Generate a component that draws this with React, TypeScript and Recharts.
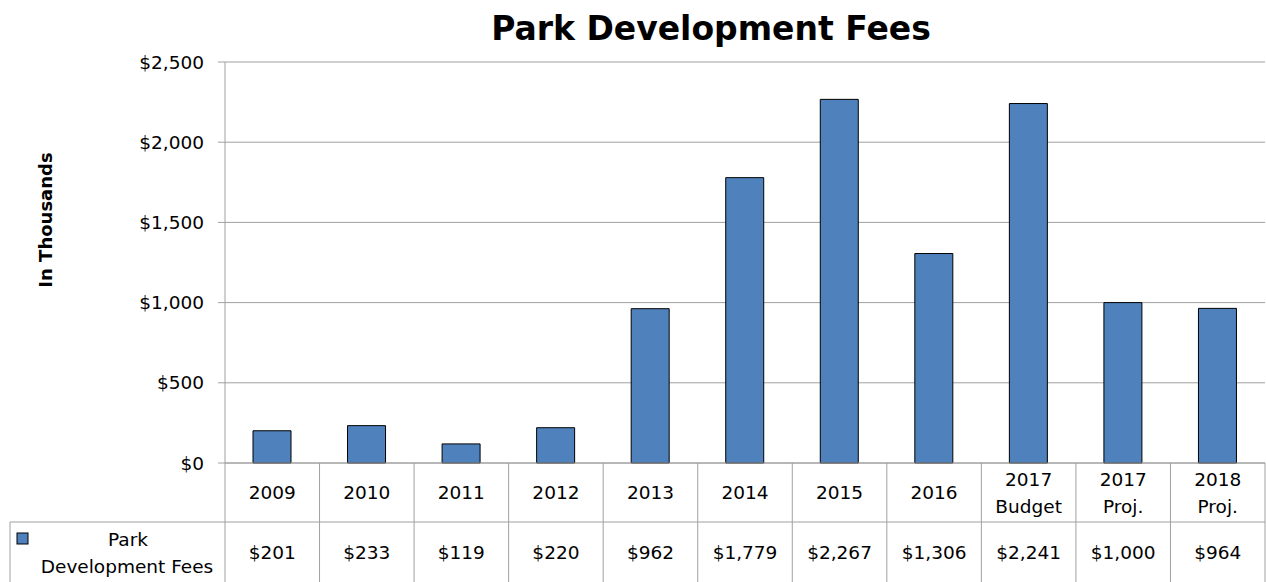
import React from 'react';
import { BarChart, Bar, XAxis, YAxis, CartesianGrid, Customized } from 'recharts';

const categories = ['2009', '2010', '2011', '2012', '2013', '2014', '2015', '2016', '2017 Budget', '2017 Proj.', '2018 Proj.'];
const categoryLines = [['2009'], ['2010'], ['2011'], ['2012'], ['2013'], ['2014'], ['2015'], ['2016'], ['2017', 'Budget'], ['2017', 'Proj.'], ['2018', 'Proj.']];
const feeValues = [201, 233, 119, 220, 962, 1779, 2267, 1306, 2241, 1000, 964];
const yTicks = [0, 500, 1000, 1500, 2000, 2500];
const seriesName = 'Park Development Fees';
const legendLines = ['Park', 'Development Fees'];

const data = categories.map((c, i) => ({ category: c, value: feeValues[i], idx: i }));

const W = 1266;
const H = 582;
const M = { top: 62, right: 1, bottom: 0, left: 0 };
const Y_WIDTH = 225;
const X_HEIGHT = 119;
const PLOT_LEFT = M.left + Y_WIDTH;
const PLOT_RIGHT = W - M.right;
const PLOT_BOTTOM = H - M.bottom - X_HEIGHT;
const ROW_SPLIT = 522;
const TABLE_BOTTOM = H;
const TABLE_LEFT = 10;
const BAND = (PLOT_RIGHT - PLOT_LEFT) / categories.length;
const FONT = '"DejaVu Sans", sans-serif';
const FS = 18.5;
const GRID = '#a0a0a0';
const BLUE = '#4F81BD';

const fmt = (v: number) => '$' + v.toLocaleString('en-US');

const TableTick = (props: any) => {
  const { x, payload, index } = props;
  const i = typeof index === 'number' ? index : categories.indexOf(payload.value);
  const left = x - BAND / 2;
  const right = x + BAND / 2;
  const lines = categoryLines[i] || [payload.value];
  const row1Mid = (PLOT_BOTTOM + ROW_SPLIT) / 2;
  const row2Mid = (ROW_SPLIT + TABLE_BOTTOM) / 2;
  const lh = 27;
  return (
    <g>
      <line x1={left} y1={PLOT_BOTTOM} x2={left} y2={TABLE_BOTTOM} stroke={GRID} strokeWidth={1} />
      {i === categories.length - 1 && (
        <line x1={right} y1={PLOT_BOTTOM} x2={right} y2={TABLE_BOTTOM} stroke={GRID} strokeWidth={1} />
      )}
      <line x1={left} y1={ROW_SPLIT} x2={right} y2={ROW_SPLIT} stroke={GRID} strokeWidth={1} />
      {lines.map((t: string, k: number) => (
        <text
          key={k}
          x={x}
          y={row1Mid + (k - (lines.length - 1) / 2) * lh}
          textAnchor="middle"
          dominantBaseline="central"
          fontFamily={FONT}
          fontSize={FS}
          fill="#000"
        >
          {t}
        </text>
      ))}
      <text x={x} y={row2Mid} textAnchor="middle" dominantBaseline="central" fontFamily={FONT} fontSize={FS} fill="#000">
        {fmt(feeValues[i])}
      </text>
    </g>
  );
};

const Extras = () => {
  const row2Mid = (ROW_SPLIT + TABLE_BOTTOM) / 2;
  return (
    <g>
      <text x={711} y={28} textAnchor="middle" dominantBaseline="central" fontFamily={FONT} fontWeight="bold" fontSize={33} fill="#000">
        {seriesName}
      </text>
      <text
        x={45}
        y={220}
        transform="rotate(-90 45 220)"
        textAnchor="middle"
        dominantBaseline="central"
        fontFamily={FONT}
        fontWeight="bold"
        fontSize={18}
        fill="#000"
      >
        In Thousands
      </text>
      <line x1={TABLE_LEFT} y1={ROW_SPLIT} x2={PLOT_LEFT} y2={ROW_SPLIT} stroke={GRID} />
      <line x1={TABLE_LEFT} y1={ROW_SPLIT} x2={TABLE_LEFT} y2={TABLE_BOTTOM} stroke={GRID} />
      <rect x={17} y={533} width={11} height={11} fill={BLUE} stroke="#000" strokeWidth={1} />
      <text x={128} y={row2Mid - 13} textAnchor="middle" dominantBaseline="central" fontFamily={FONT} fontSize={FS} fill="#000">
        {legendLines[0]}
      </text>
      <text x={127} y={row2Mid + 14} textAnchor="middle" dominantBaseline="central" fontFamily={FONT} fontSize={FS} fill="#000">
        {legendLines[1]}
      </text>
    </g>
  );
};

export default function App() {
  return (
    <div style={{ position: 'absolute', left: 0, top: 0, width: W, height: H, background: '#fff' }}>
      <BarChart width={W} height={H} data={data} margin={M} barSize={38}>
        <CartesianGrid vertical={false} stroke={GRID} strokeWidth={1} />
        <XAxis
          dataKey="category"
          interval={0}
          height={X_HEIGHT}
          tickLine={false}
          axisLine={{ stroke: GRID }}
          tick={<TableTick />}
        />
        <YAxis
          width={Y_WIDTH}
          domain={[0, 2500]}
          ticks={yTicks}
          interval={0}
          tickSize={7}
          tickMargin={14}
          tickLine={{ stroke: GRID }}
          axisLine={{ stroke: GRID }}
          tickFormatter={(v: number) => fmt(v)}
          tick={{ fontFamily: FONT, fontSize: FS, fill: '#000' }}
        />
        <Bar dataKey="value" fill={BLUE} stroke="#000" strokeWidth={1} isAnimationActive={false} />
        <Customized component={Extras} />
      </BarChart>
    </div>
  );
}
